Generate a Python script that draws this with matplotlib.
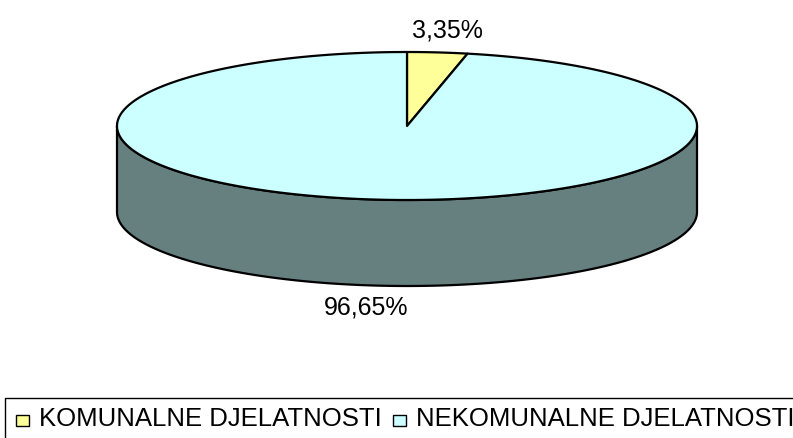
import numpy as np
import matplotlib
matplotlib.use("Agg")
import matplotlib.pyplot as plt
from matplotlib.patches import Polygon, Rectangle

plt.rcParams['font.family'] = ['Liberation Sans', 'DejaVu Sans']

categories = ["KOMUNALNE DJELATNOSTI", "NEKOMUNALNE DJELATNOSTI"]
shares = [3.35, 96.65]
labels = ["3,35%", "96,65%"]
top_colors = ["#FFFF99", "#CCFFFF"]
side_colors = ["#808050", "#668080"]

W, H = 793, 439
fig = plt.figure(figsize=(W / 100, H / 100), dpi=100)
ax = fig.add_axes([0, 0, 1, 1])
ax.set_xlim(0, W)
ax.set_ylim(H, 0)
ax.axis("off")

# pie geometry (pixels)
cx, cy, rx, ry, depth = 407, 127, 290, 74, 86


def pt(theta):
    # theta: degrees clockwise from 12 o'clock
    t = np.radians(theta)
    return cx + rx * np.sin(t), cy - ry * np.cos(t)


# slice boundaries, clockwise from the top
bounds = np.concatenate([[0], np.cumsum(shares) / np.sum(shares) * 360])

# front side wall (visible for angles 90..270)
for i in range(len(shares)):
    a0, a1 = max(bounds[i], 90), min(bounds[i + 1], 270)
    if a1 <= a0:
        continue
    th = np.linspace(a0, a1, 200)
    xs, ys = pt(th)
    poly = np.column_stack([np.concatenate([xs, xs[::-1]]),
                            np.concatenate([ys, ys[::-1] + depth])])
    ax.add_patch(Polygon(poly, closed=True, facecolor=side_colors[i],
                         edgecolor="black", linewidth=1.6, joinstyle="round"))

# top faces
for i in range(len(shares)):
    th = np.linspace(bounds[i], bounds[i + 1], 400)
    xs, ys = pt(th)
    poly = np.column_stack([np.concatenate([[cx], xs]),
                            np.concatenate([[cy], ys])])
    ax.add_patch(Polygon(poly, closed=True, facecolor=top_colors[i],
                         edgecolor="black", linewidth=1.6, joinstyle="round"))

# percentage labels
for i in range(len(shares)):
    mid = (bounds[i] + bounds[i + 1]) / 2
    t = np.radians(mid)
    lx = cx + rx * 1.33 * np.sin(t)
    ex, ey = pt(mid)
    if np.cos(t) >= 0:
        ly = ey - 16
    else:
        ly = ey + depth + 28
    ax.text(lx, ly, labels[i], ha="center", va="baseline", fontsize=18,
            color="black")

# legend frame
ax.add_patch(Rectangle((4.5, 399.5), 792, 60, facecolor="white",
                       edgecolor="black", linewidth=1.0, clip_on=False))
lx = 16
for i, name in enumerate(categories):
    ax.add_patch(Rectangle((lx, 416), 13, 11, facecolor=top_colors[i],
                           edgecolor="black", linewidth=1.0))
    t = ax.text(lx + 23, 426, name, ha="left", va="baseline", fontsize=18.5,
                color="black")
    fig.canvas.draw()
    bb = t.get_window_extent()
    lx = bb.x1 + 11

fig.savefig("out.png", dpi=100)
